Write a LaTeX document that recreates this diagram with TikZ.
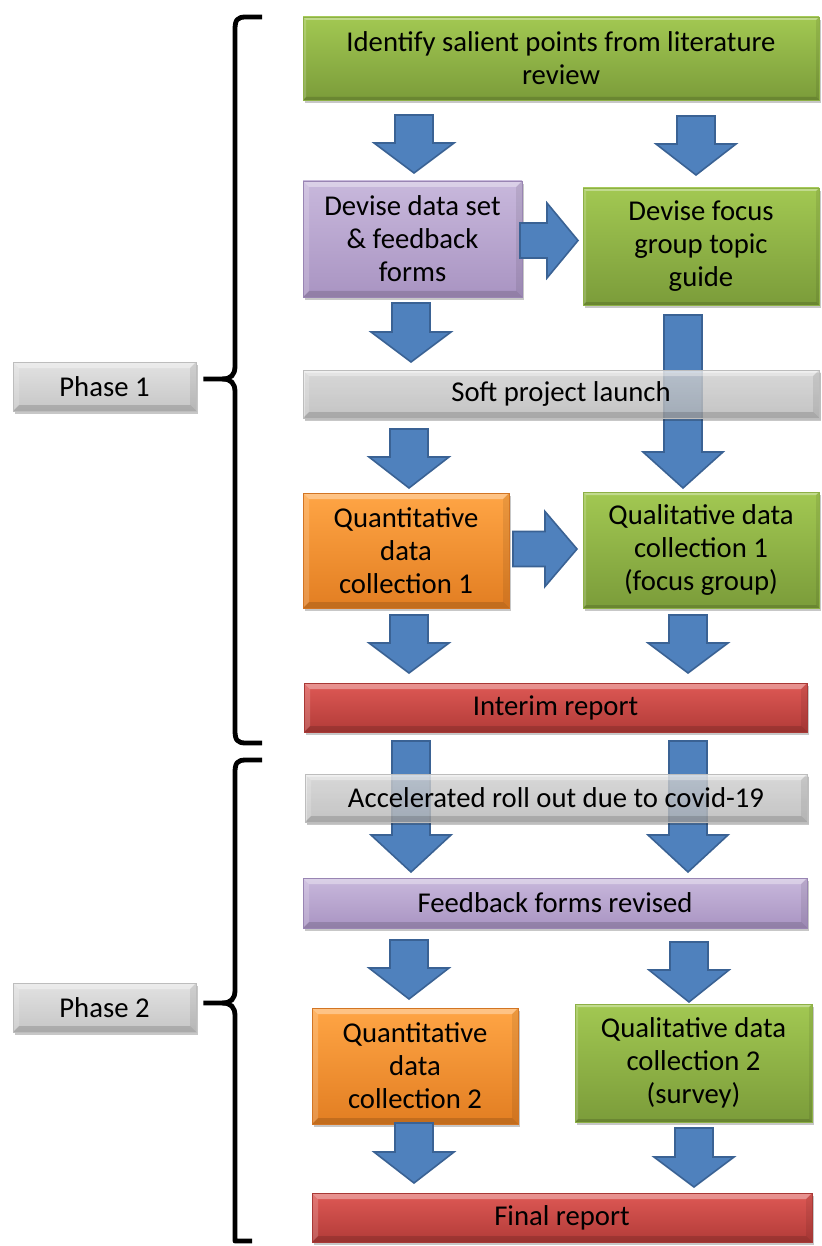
\documentclass[tikz,border=0pt]{standalone}
\usepackage{fontspec}
\setmainfont{Carlito}
\usetikzlibrary{shadows,calc}
\definecolor{greenT}{HTML}{A2C852}
\definecolor{greenB}{HTML}{7B9C3A}
\definecolor{greenE}{HTML}{8DB046}
\definecolor{purpT}{HTML}{C8B8DC}
\definecolor{purpB}{HTML}{A994C2}
\definecolor{purpE}{HTML}{9985B3}
\definecolor{orT}{HTML}{FFA545}
\definecolor{orB}{HTML}{E27E22}
\definecolor{orE}{HTML}{D27524}
\definecolor{redT}{HTML}{DE5955}
\definecolor{redB}{HTML}{B23B38}
\definecolor{redE}{HTML}{A83936}
\definecolor{grayT}{HTML}{E2E2E2}
\definecolor{grayB}{HTML}{C6C6C6}
\definecolor{grayE}{HTML}{BDBDBD}
\definecolor{arrowblue}{HTML}{4F81BD}
\definecolor{arrowedge}{HTML}{3A6294}
\tikzset{
  bevel/.style={path picture={
    \fill[white,opacity=.35] (path picture bounding box.north west) -- (path picture bounding box.north east)
       -- ([shift={(-#1,-#1)}]path picture bounding box.north east) -- ([shift={(#1,-#1)}]path picture bounding box.north west) -- cycle;
    \fill[white,opacity=.18] (path picture bounding box.north west) -- (path picture bounding box.south west)
       -- ([shift={(#1,#1)}]path picture bounding box.south west) -- ([shift={(#1,-#1)}]path picture bounding box.north west) -- cycle;
    \fill[black,opacity=.14] (path picture bounding box.south west) -- (path picture bounding box.south east)
       -- ([shift={(-#1,#1)}]path picture bounding box.south east) -- ([shift={(#1,#1)}]path picture bounding box.south west) -- cycle;
    \fill[black,opacity=.08] (path picture bounding box.north east) -- (path picture bounding box.south east)
       -- ([shift={(-#1,#1)}]path picture bounding box.south east) -- ([shift={(-#1,-#1)}]path picture bounding box.north east) -- cycle;
  }},
  box/.style={rectangle, inner sep=0pt, align=center, text=black,
    font=\fontsize{28.7}{33}\selectfont, line width=0.8pt,
    drop shadow={shadow xshift=1.5pt, shadow yshift=-3pt, opacity=0.22, fill=black}},
  greenbox/.style={box, top color=greenT, bottom color=greenB, draw=greenE, bevel=3pt},
  purplebox/.style={box, top color=purpT, bottom color=purpB, draw=purpE, bevel=6pt},
  orangebox/.style={box, top color=orT, bottom color=orB, draw=orE, bevel=6pt},
  redbox/.style={box, top color=redT, bottom color=redB, draw=redE, bevel=6pt},
  graybox/.style={box, top color=grayT, bottom color=grayB, draw=grayE, bevel=6pt},
  glassbar/.style={graybox, fill opacity=0.72, text opacity=1, drop shadow={opacity=0.12}},
  blockarrow/.style={fill=arrowblue, draw=arrowedge, line width=1.6pt, line join=miter},
  bracestyle/.style={line width=4.8pt, draw=black, line join=round}
}
\newcommand\downblock[4]{% x, top, head start, tip
  \draw[blockarrow] ({#1-19},#2) -- ({#1+19},#2) -- ({#1+19},#3) -- ({#1+40},#3) -- (#1,#4)
     -- ({#1-40},#3) -- ({#1-19},#3) -- cycle;}
\newcommand\rightblock[4]{% y, left, head start, tip
  \draw[blockarrow] (#2,{#1-17.5}) -- (#3,{#1-17.5}) -- (#3,{#1-37.5}) -- (#4,#1)
     -- (#3,{#1+37.5}) -- (#3,{#1+17.5}) -- (#2,{#1+17.5}) -- cycle;}
\begin{document}
\begin{tikzpicture}[x=1pt,y=-1pt]
\useasboundingbox (0,0) rectangle (821,1246);

% main boxes
\node[greenbox, minimum width=516pt, minimum height=83pt] (lit) at (561,58.5)
  {Identify salient points from literature\\review};
\node[purplebox, minimum width=219pt, minimum height=116pt] (devdata) at (412.5,239)
  {Devise data set\\\& feedback\\forms};
\node[greenbox, minimum width=236pt, minimum height=117pt] (devfocus) at (701,246.5)
  {Devise focus\\group topic\\guide};
\node[orangebox, minimum width=206pt, minimum height=115pt] (quant1) at (406,550.5)
  {Quantitative\\data\\collection 1};
\node[greenbox, minimum width=236pt, minimum height=116pt] (qual1) at (701,550)
  {Qualitative data\\collection 1\\(focus group)};
\node[redbox, minimum width=503pt, minimum height=49pt] (interim) at (555.5,707.5)
  {Interim report};
\node[purplebox, minimum width=504pt, minimum height=50pt] (fbrev) at (555,903)
  {Feedback forms revised};
\node[orangebox, minimum width=206pt, minimum height=116pt] (quant2) at (415,1066)
  {Quantitative\\data\\collection 2};
\node[greenbox, minimum width=237pt, minimum height=118pt] (qual2) at (693.5,1063)
  {Qualitative data\\collection 2\\(survey)};
\node[redbox, minimum width=500pt, minimum height=49pt] (final) at (562,1217.5)
  {Final report};

% phase labels
\node[graybox, minimum width=183pt, minimum height=49pt] (phase1) at (104.5,386.5) {Phase 1};
\node[graybox, minimum width=183pt, minimum height=49pt] (phase2) at (104.5,1007.5) {Phase 2};

% block arrows
\downblock{414}{115}{143}{173}
\downblock{696}{116}{144}{175}
\rightblock{240.5}{520}{547}{578}
\downblock{411}{303}{332}{362}
\downblock{683}{315}{452}{488}
\downblock{409}{429}{457}{488}
\rightblock{549}{513}{545}{577}
\downblock{409}{615}{643}{673}
\downblock{688}{615}{643}{673}
\downblock{411}{741}{835}{872}
\downblock{688}{741}{835}{872}
\downblock{409}{940}{968}{999}
\downblock{689}{942}{970}{1002}
\downblock{414}{1123}{1152}{1183}
\downblock{694}{1128}{1157}{1187}

% translucent bars over the long arrows
\node[glassbar, minimum width=516pt, minimum height=48pt] (soft) at (561,394)
  {Soft project launch};
\node[glassbar, minimum width=502pt, minimum height=48pt] (accel) at (556,798)
  {Accelerated roll out due to covid-19};

% braces
\coordinate (tip1) at ($(phase1.east)+(7pt,7.5pt)$);
\coordinate (tip2) at ($(phase2.east)+(7pt,4.5pt)$);
\draw[bracestyle] (262,17) -- (246,17) .. controls (237,17) and (235,20) .. (235,30) -- (235,366)
  .. controls (235,375) and (231,379) .. (222,379) -- (tip1);
\draw[bracestyle] (222,379) .. controls (231,379) and (235,383) .. (235,392) -- (235,730)
  .. controls (235,740) and (237,743) .. (246,743) -- (262,743);
\draw[bracestyle] (262,760) -- (246,760) .. controls (237,760) and (235,763) .. (235,773) -- (235,990)
  .. controls (235,999) and (231,1003) .. (222,1003) -- (tip2);
\draw[bracestyle] (222,1003) .. controls (231,1003) and (235,1007) .. (235,1016) -- (235,1241)
  -- (252,1241);
\end{tikzpicture}
\end{document}
